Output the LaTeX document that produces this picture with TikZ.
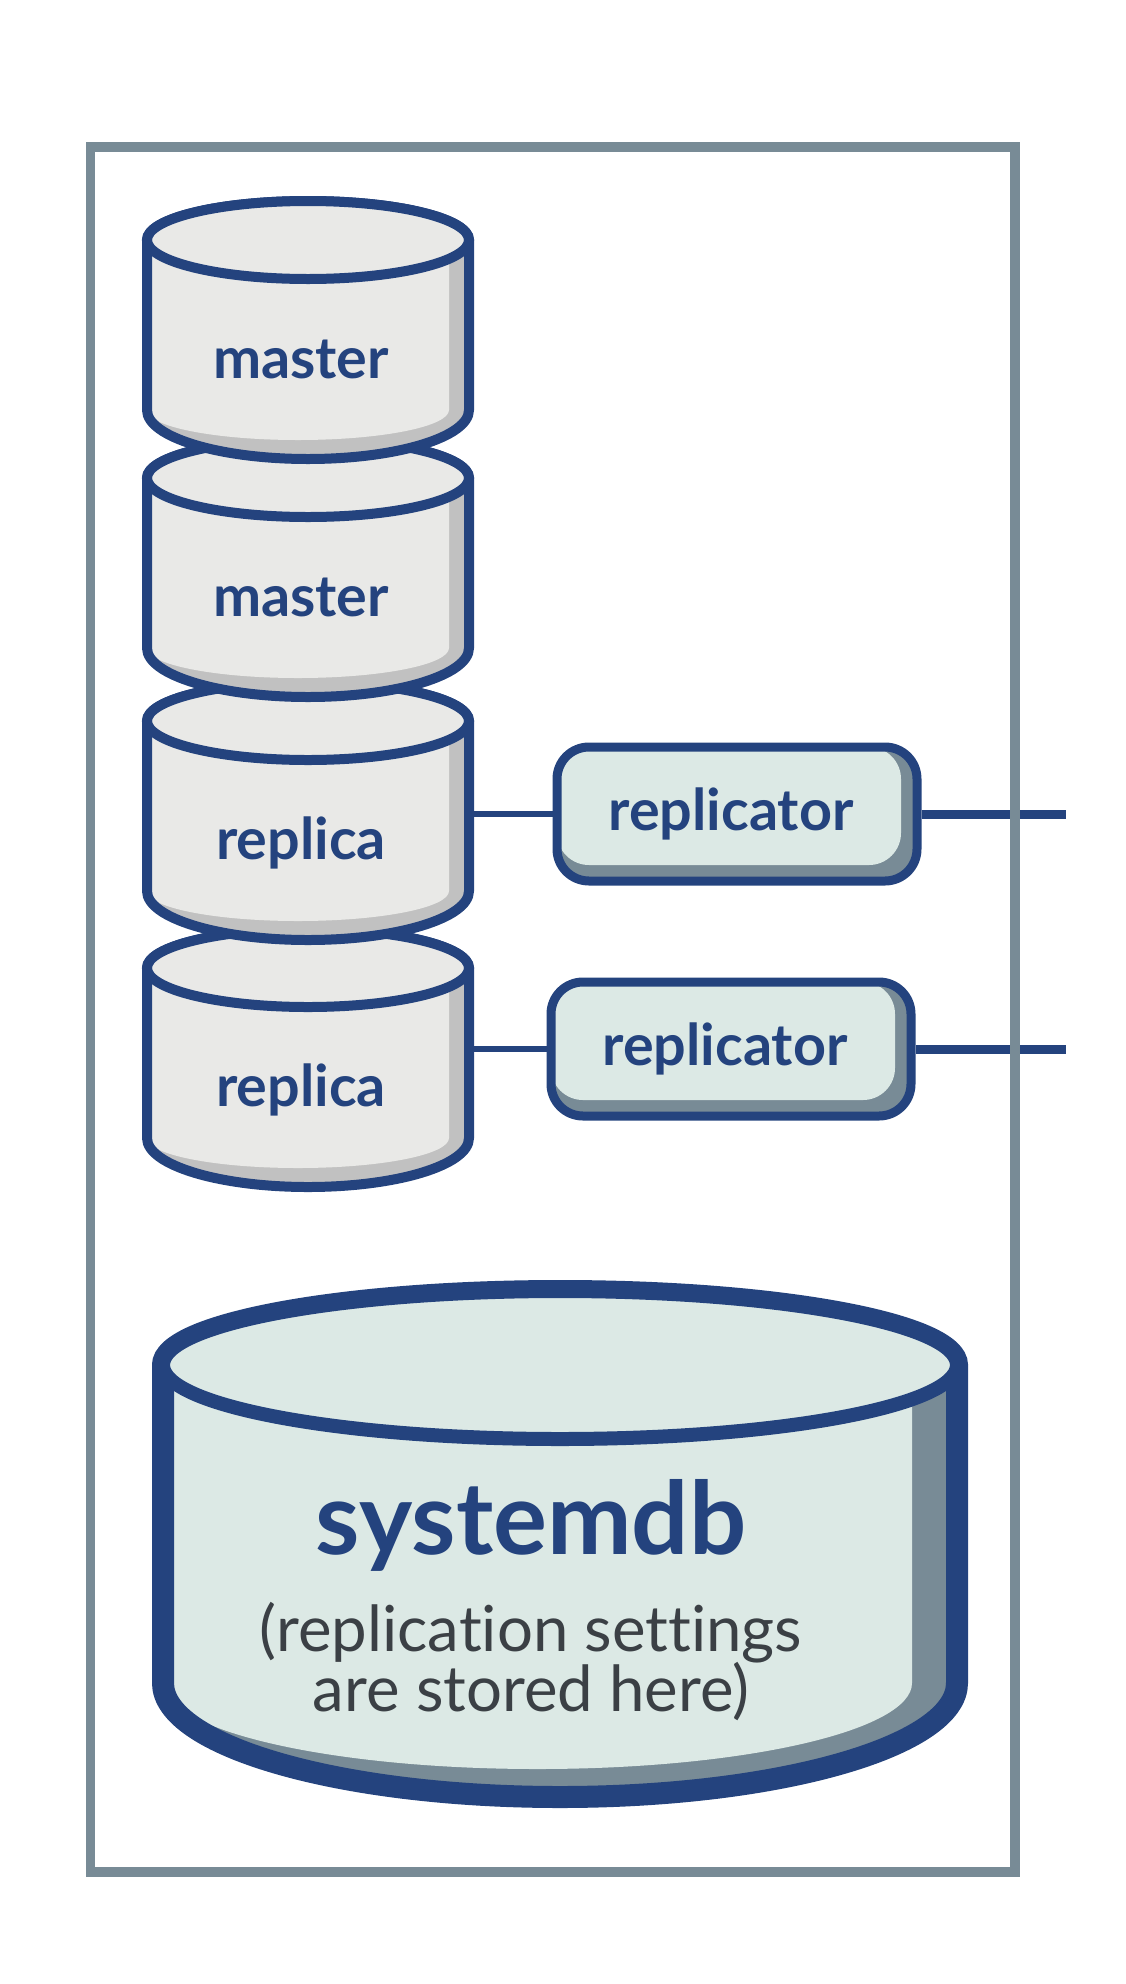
\documentclass[tikz,border=0pt]{standalone}
\usepackage{fontspec}
\setmainfont{Lato}[Ligatures=CommonOff]
\usetikzlibrary{positioning}

\definecolor{dbnavy}{HTML}{24437E}
\definecolor{dbgray}{HTML}{E9E9E7}
\definecolor{dbshade}{HTML}{C1C1C1}
\definecolor{replfill}{HTML}{DCE9E5}
\definecolor{slate}{HTML}{788B96}
\definecolor{notetext}{HTML}{3B4045}

\tikzset{
  dblabel/.style={font=\fontsize{57.5}{60}\selectfont\bfseries, text=dbnavy, inner sep=0pt, anchor=base},
  replbox/.style={draw=dbnavy, line width=9pt, fill=slate, rounded corners=32pt,
    minimum width=360pt, minimum height=134pt, inner sep=0pt,
    font=\fontsize{57.5}{60}\selectfont\bfseries, text=dbnavy,
    path picture={\fill[replfill, rounded corners=32pt]
      (path picture bounding box.north west) rectangle
      ([xshift=-16pt,yshift=16pt]path picture bounding box.south east);}},
  wire/.style={draw=dbnavy, line width=6pt},
  outwire/.style={draw=dbnavy, line width=9pt},
  sysname/.style={font=\fontsize{101}{104}\selectfont\bfseries, text=dbnavy, inner sep=0pt, anchor=base},
  note/.style={font=\fontsize{63.5}{64}\selectfont, text=notetext, inner sep=0pt, anchor=base},
}

\begin{document}
\begin{tikzpicture}[x=1pt,y=-1pt]
  \useasboundingbox (0,0) rectangle (1126,1984);
  % the four small databases, bottom one first so each sits on the next
  \foreach \yt/\nm/\lbl in {968/replica2/replica,721/replica1/replica,478/master2/master,240/master1/master}{
    \begin{scope}
      \clip (147,\yt) -- (147,\yt+170)
        arc[start angle=180,end angle=360,x radius=161pt,y radius=49pt]
        -- (469,\yt) -- cycle;
      \fill[dbshade] (140,\yt) rectangle (480,\yt+230);
      \fill[dbgray] (147,\yt) -- (147,\yt+170)
        arc[start angle=180,end angle=360,x radius=151pt,y radius=30pt]
        -- (449,\yt) -- cycle;
    \end{scope}
    \draw[dbnavy, line width=10pt] (147,\yt) -- (147,\yt+170)
      arc[start angle=180,end angle=360,x radius=161pt,y radius=49pt]
      -- (469,\yt) arc[start angle=0,end angle=180,x radius=161pt,y radius=39pt] -- cycle;
    \draw[dbnavy, line width=10pt, fill=dbgray] (308,\yt) ellipse[x radius=161pt, y radius=39pt];
    \node[dblabel] (\nm) at (301,\yt+138) {\lbl};
    \coordinate (\nm-port) at (469,\yt+90);
  }

  % replicators
  \node[replbox] (repl1) at (737,814) {replicator\kern12pt};
  \node[replbox] (repl2) at (731,1049) {replicator\kern12pt};
  \coordinate (repl1-out) at (1066,814);
  \coordinate (repl2-out) at (1066,1049);
  \draw[wire] (replica1-port |- repl1.west) -- (repl1.west);
  \draw[wire] (replica2-port |- repl2.west) -- (repl2.west);
  \draw[outwire] (repl1.east) -- (repl1-out);
  \draw[outwire] (repl2.east) -- (repl2-out);

  % systemdb
  \begin{scope}
    \clip (163,1365) -- (163,1683)
      arc[start angle=180,end angle=360,x radius=397pt,y radius=114pt]
      -- (957,1365) -- cycle;
    \fill[slate] (150,1365) rectangle (970,1820);
    \fill[replfill] (163,1365) -- (163,1683)
      arc[start angle=180,end angle=360,x radius=374.5pt,y radius=86pt]
      -- (912,1365) -- cycle;
  \end{scope}
  \draw[dbnavy, line width=22pt] (163,1365) -- (163,1683)
    arc[start angle=180,end angle=360,x radius=397pt,y radius=114pt]
    -- (957,1365) arc[start angle=0,end angle=180,x radius=397pt,y radius=74pt] -- cycle;
  \draw[dbnavy, line width=14pt, fill=replfill] (560,1365) ellipse[x radius=397pt, y radius=74pt];
  \node[sysname] (sysdb) at (531,1554) {systemdb};
  \node[note] (note1) at (531,1651) {(replication settings};
  \node[note] (note2) at ([yshift=-60pt]note1.base) {are stored here)};

  % outer frame
  \draw[slate, line width=9.5pt] (90.5,147) rectangle (1015,1872);
\end{tikzpicture}
\end{document}
